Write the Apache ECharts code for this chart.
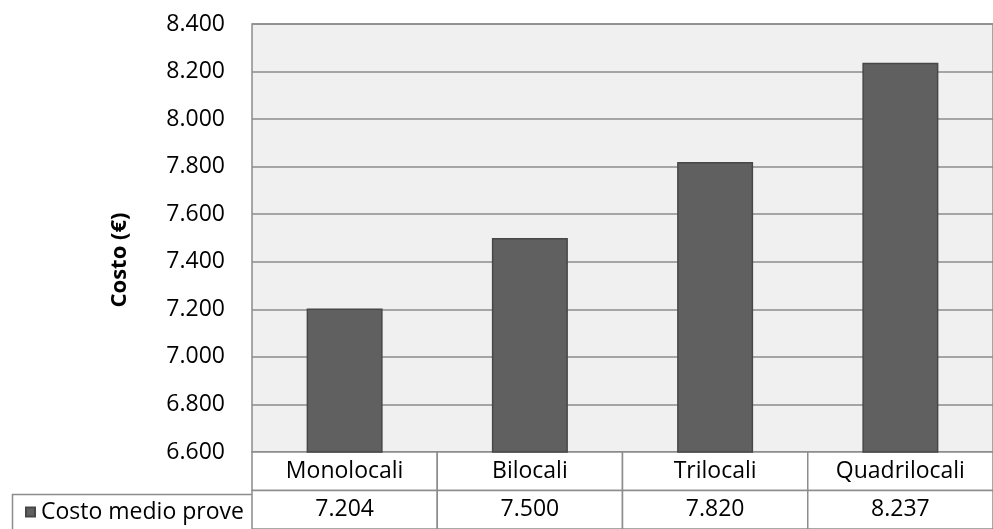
<!DOCTYPE html>
<html>
<head>
<meta charset="utf-8">
<script src="https://cdn.jsdelivr.net/npm/echarts@6/dist/echarts.min.js"></script>
<style>
html,body{margin:0;padding:0;background:#fff;}
#c{width:993px;height:529px;}
</style>
</head>
<body>
<div id="c"></div>
<script>
var categories = ['Monolocali', 'Bilocali', 'Trilocali', 'Quadrilocali'];
var costoMedio = [7204, 7500, 7820, 8237];
var seriesName = 'Costo medio prove';
var axisTitle = 'Costo (€)';
var yMin = 6600, yMax = 8400, yStep = 200;

var FONT = '"Open Sans", sans-serif';
var FS = 23;
function fmt(v) {
  var s = String(Math.round(v));
  return s.replace(/\B(?=(\d{3})+(?!\d))/g, '.');
}

var tableData = [];
categories.forEach(function (c, i) {
  tableData.push([i, 0, c]);
  tableData.push([i, 1, fmt(costoMedio[i])]);
});

var chart = echarts.init(document.getElementById('c'), null, {renderer: 'canvas'});
chart.setOption({
  animation: false,
  backgroundColor: '#ffffff',
  textStyle: {fontFamily: FONT},
  grid: [
    {left: 252, top: 24, width: 750, height: 428, show: true,
     backgroundColor: '#f0f0f0', borderColor: '#8c8c8c', borderWidth: 1.5},
    {left: 252, top: 452, width: 750, height: 80, show: false}
  ],
  legend: {
    left: 25, top: 499, padding: 0,
    itemWidth: 9, itemHeight: 9,
    icon: 'rect',
    data: [seriesName],
    textStyle: {fontFamily: FONT, fontSize: FS, color: '#000', lineHeight: 26, padding: [0, 0, 0, 1]}
  },
  graphic: [{
    type: 'rect', left: 10, top: 492, z: 0,
    shape: {width: 242, height: 45},
    style: {fill: 'none', stroke: '#8c8c8c', lineWidth: 1.5}
  }],
  xAxis: [
    {type: 'category', gridIndex: 0, data: categories,
     axisLine: {show: false}, axisTick: {show: false}, axisLabel: {show: false}},
    {type: 'category', gridIndex: 1, data: categories,
     axisLine: {show: false}, axisTick: {show: false}, axisLabel: {show: false}}
  ],
  yAxis: [
    {type: 'value', gridIndex: 0, min: yMin, max: yMax, interval: yStep,
     name: axisTitle, nameLocation: 'middle', nameGap: 121,
     nameTextStyle: {fontFamily: FONT, fontSize: 22, fontWeight: 'bold', color: '#000', padding: [0, 44, 0, 0]},
     axisLine: {show: false}, axisTick: {show: false},
     axisLabel: {formatter: fmt, fontFamily: FONT, fontSize: FS, color: '#000', margin: 27},
     splitLine: {lineStyle: {color: '#8c8c8c', width: 1.5}}},
    {type: 'category', gridIndex: 1, data: ['r0', 'r1'], inverse: true,
     axisLine: {show: false}, axisTick: {show: false}, axisLabel: {show: false}}
  ],
  series: [
    {name: seriesName, type: 'bar', xAxisIndex: 0, yAxisIndex: 0,
     data: costoMedio, barWidth: 76,
     itemStyle: {color: '#606060', borderColor: '#474747', borderWidth: 1.5}},
    {type: 'custom', xAxisIndex: 1, yAxisIndex: 1, data: tableData, silent: true,
     renderItem: function (params, api) {
       var p = api.coord([api.value(0), api.value(1)]);
       var s = api.size([1, 1]);
       var txt = tableData[params.dataIndex][2];
       return {
         type: 'group',
         children: [
           {type: 'rect', shape: {x: p[0] - s[0] / 2, y: p[1] - s[1] / 2, width: s[0], height: s[1]},
            style: {fill: '#ffffff', stroke: '#8c8c8c', lineWidth: 1.5}},
           {type: 'text', x: p[0], y: p[1],
            style: {text: txt, align: 'center', verticalAlign: 'middle',
                    font: FS + 'px ' + FONT, fill: '#000'}}
         ]
       };
     }}
  ]
});
</script>
</body>
</html>
